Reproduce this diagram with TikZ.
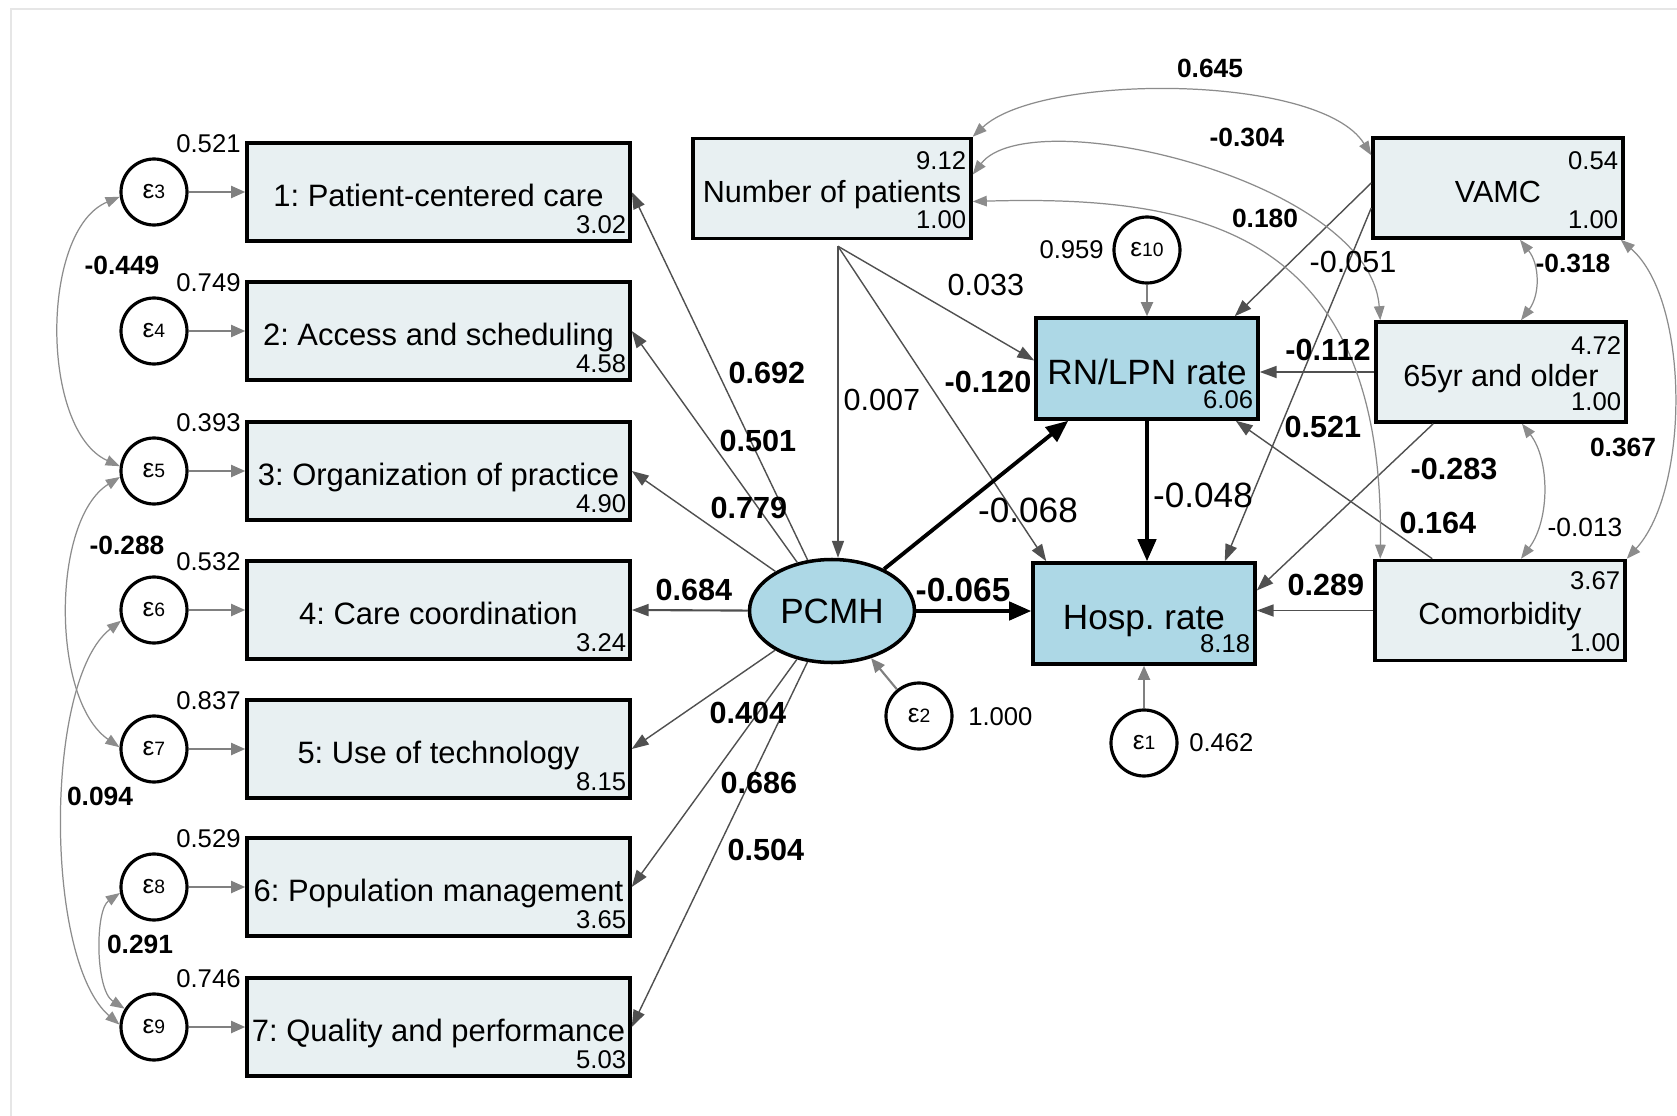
\documentclass[tikz,border=0pt]{standalone}
\usepackage{fontspec}
\setmainfont{Liberation Sans}
\usetikzlibrary{arrows.meta,calc,shapes.geometric}

\definecolor{boxfill}{RGB}{232,240,242}
\definecolor{endofill}{RGB}{173,216,230}
\definecolor{errline}{RGB}{128,128,128}
\definecolor{regline}{RGB}{80,80,80}
\definecolor{covline}{RGB}{140,140,140}
\definecolor{framecol}{RGB}{230,230,230}

\newcommand{\errlab}[1]{{\fontsize{7.5}{8}\selectfont ε}{\fontsize{5.5}{6}\selectfont #1}}

\tikzset{
  ind/.style={draw, line width=1pt, fill=boxfill, minimum width=38.3mm, minimum height=9.8mm, inner sep=0pt, text height=8pt, text depth=0pt, font=\fontsize{8.8}{10}\selectfont},
  exo/.style={draw, line width=1pt, fill=boxfill, minimum width=25mm, minimum height=10mm, inner sep=0pt, text height=8pt, text depth=0pt, font=\fontsize{8.7}{10}\selectfont},
  endo/.style={draw, line width=1pt, fill=endofill, minimum width=22.2mm, minimum height=10.1mm, inner sep=0pt, text height=9pt, text depth=0pt, font=\fontsize{10}{12}\selectfont},
  latent/.style={ellipse, draw, line width=1pt, fill=endofill, minimum width=16.5mm, minimum height=10.3mm, inner sep=0pt, font=\fontsize{10}{12}\selectfont},
  err/.style={circle, draw, line width=0.9pt, fill=white, minimum size=6.6mm, inner sep=0pt},
  num/.style={inner sep=0pt, font=\fontsize{7.3}{8}\selectfont},
  lab/.style={inner sep=0pt, font=\bfseries\fontsize{8.7}{10}\selectfont},
  labn/.style={inner sep=0pt, font=\fontsize{8.7}{10}\selectfont},
  labbig/.style={inner sep=0pt, font=\fontsize{10}{12}\selectfont},
  covlab/.style={inner sep=0pt, font=\bfseries\fontsize{7.5}{9}\selectfont},
  covlabn/.style={inner sep=0pt, font=\fontsize{7.5}{9}\selectfont},
  errpath/.style={draw=errline, line width=0.6pt, -{Triangle[length=4pt,width=3.4pt]}},
  reg/.style={draw=regline, line width=0.4pt, -{Triangle[length=4.8pt,width=3.4pt]}},
  bigreg/.style={draw=black, line width=1.1pt, -{Triangle[length=6.3pt,width=5.2pt]}},
  cov/.style={draw=covline, line width=0.35pt, {Triangle[length=4pt,width=3pt]}-{Triangle[length=4pt,width=3pt]}}
}

\begin{document}
\frenchspacing
\begin{tikzpicture}[x=0.1mm, y=-0.1mm]
\path[use as bounding box, fill=white] (0,0) rectangle (1677,1116);
\draw[framecol, line width=0.6pt] (11,1116) -- (11,9) -- (1677,9);

% measurement part
\node[err] (e3) at (154,192) {\errlab{3}};
\node[err] (e4) at (154,331) {\errlab{4}};
\node[err] (e5) at (154,471) {\errlab{5}};
\node[err] (e6) at (154,610) {\errlab{6}};
\node[err] (e7) at (154,749) {\errlab{7}};
\node[err] (e8) at (154,887) {\errlab{8}};
\node[err] (e9) at (154,1027) {\errlab{9}};

\node[ind] (b1) at (438.5,192) {1: Patient-centered care};
\node[ind] (b2) at (438.5,331) {2: Access and scheduling};
\node[ind] (b3) at (438.5,471) {3: Organization of practice};
\node[ind] (b4) at (438.5,610) {4: Care coordination};
\node[ind] (b5) at (438.5,749) {5: Use of technology};
\node[ind] (b6) at (438.5,887) {6: Population management};
\node[ind] (b7) at (438.5,1027) {7: Quality and performance};

\node[num, anchor=east] (v3) at ($(b1.north west)+(-4,2)$) {0.521};
\node[num, anchor=east] (v4) at ($(b2.north west)+(-4,2)$) {0.749};
\node[num, anchor=east] (v5) at ($(b3.north west)+(-4,2)$) {0.393};
\node[num, anchor=east] (v6) at ($(b4.north west)+(-4,2)$) {0.532};
\node[num, anchor=east] (v7) at ($(b5.north west)+(-4,2)$) {0.837};
\node[num, anchor=east] (v8) at ($(b6.north west)+(-4,2)$) {0.529};
\node[num, anchor=east] (v9) at ($(b7.north west)+(-4,2)$) {0.746};

\node[num, anchor=east] (i1) at ($(b1.south east)+(-5,-18)$) {3.02};
\node[num, anchor=east] (i2) at ($(b2.south east)+(-5,-18)$) {4.58};
\node[num, anchor=east] (i3) at ($(b3.south east)+(-5,-18)$) {4.90};
\node[num, anchor=east] (i4) at ($(b4.south east)+(-5,-18)$) {3.24};
\node[num, anchor=east] (i5) at ($(b5.south east)+(-5,-18)$) {8.15};
\node[num, anchor=east] (i6) at ($(b6.south east)+(-5,-18)$) {3.65};
\node[num, anchor=east] (i7) at ($(b7.south east)+(-5,-18)$) {5.03};

\draw[errpath] (e3) -- (b1);
\draw[errpath] (e4) -- (b2);
\draw[errpath] (e5) -- (b3);
\draw[errpath] (e6) -- (b4);
\draw[errpath] (e7) -- (b5);
\draw[errpath] (e8) -- (b6);
\draw[errpath] (e9) -- (b7);

% structural part
\node[latent] (pcmh) at (832,611) {PCMH};
\node[endo] (rn) at (1147,368.5) {RN/LPN rate};
\node[endo] (hosp) at (1144,613.5) {Hosp. rate};
\node[exo, minimum width=27.8mm] (np) at (832,188.5) {Number of patients};
\node[exo] (vamc) at (1498,188) {VAMC};
\node[exo] (old) at (1501,372) {65yr and older};
\node[exo] (com) at (1500,610.5) {Comorbidity};

\node[num, anchor=east] (np1) at ($(np.north east)+(-6,24)$) {9.12};
\node[num, anchor=east] (np2) at ($(np.south east)+(-6,-21)$) {1.00};
\node[num, anchor=east] (vamc1) at ($(vamc.north east)+(-6,24)$) {0.54};
\node[num, anchor=east] (vamc2) at ($(vamc.south east)+(-6,-20)$) {1.00};
\node[num, anchor=east] (old1) at ($(old.north east)+(-6,25)$) {4.72};
\node[num, anchor=east] (old2) at ($(old.south east)+(-6,-22)$) {1.00};
\node[num, anchor=east] (com1) at ($(com.north east)+(-6,22)$) {3.67};
\node[num, anchor=east] (com2) at ($(com.south east)+(-6,-20)$) {1.00};
\node[num, anchor=east] (rn1) at ($(rn.south east)+(-6,-21)$) {6.06};
\node[num, anchor=east] (hosp1) at ($(hosp.south east)+(-6,-22)$) {8.18};

\node[err] (e10) at (1147,250) {\errlab{10}};
\node[err] (e2) at (919,716) {\errlab{2}};
\node[err] (e1) at (1144,743) {\errlab{1}};
\node[num, anchor=east] (v10) at ($(e10.west)+(-8,0)$) {0.959};
\node[num, anchor=west] (v2) at ($(e2.east)+(14,1)$) {1.000};
\node[num, anchor=west] (v1) at ($(e1.east)+(10,0)$) {0.462};

\draw[errpath] (e10) -- (rn);
\draw[errpath] (e2) -- (pcmh);
\draw[errpath] (e1) -- (hosp);

% loadings
\draw[reg] (pcmh) -- (b1.east);
\draw[reg] (pcmh) -- (b2.east);
\draw[reg] (pcmh) -- (b3.east);
\draw[reg, line width=0.6pt] (pcmh) -- (b4.east);
\draw[reg] (pcmh) -- (b5.east);
\draw[reg] (pcmh) -- (b6.east);
\draw[reg] (pcmh) -- (b7.east);

% paths
\coordinate (npout) at ($(np.south)+(6,6)$);
\draw[reg] (npout) -- (npout |- pcmh.north);
\draw[reg] (npout) -- ($(rn.west)+(0,-8)$);
\draw[reg] (npout) -- ($(hosp.north west)+(15,0)$);
\draw[bigreg] (pcmh) -- ($(rn.south west)+(34,0)$);
\draw[bigreg] (pcmh) -- (pcmh -| hosp.west);
\draw[bigreg] (rn.south) -- (rn.south |- hosp.north);
\draw[reg] ($(vamc.west)+(0,-5)$) -- ($(rn.north east)+(-25,0)$);
\draw[reg] ($(vamc.west)+(0,20)$) -- ($(hosp.north east)+(-32,0)$);
\draw[reg, line width=0.55pt] (old.west) -- (old.west -| rn.east);
\draw[reg] ($(old.south west)+(59,0)$) -- ($(hosp.east)+(0,-23)$);
\draw[reg] ($(com.north west)+(59,0)$) -- ($(rn.south east)+(-24,0)$);
\draw[reg, line width=0.55pt] (com.west) -- (com.west -| hosp.east);

% covariances
\draw[cov] (np.north east) .. controls (1040,73) and (1320,73) .. ($(vamc.north west)+(0,19)$);
\draw[cov] ($(np.east)+(0,-14)$) .. controls (1030,100) and (1370,180) .. ($(old.north west)+(6,0)$);
\draw[cov] ($(np.east)+(0,13)$) .. controls (1200,195) and (1385,230) .. ($(com.north west)+(7,0)$);
\draw[cov] ($(vamc.south)+(22,0)$) .. controls (1540,265) and (1540,295) .. ($(old.north)+(20,0)$);
\draw[cov] ($(old.south)+(21,0)$) .. controls (1550,460) and (1550,520) .. ($(com.north)+(21,0)$);
\draw[cov] ($(vamc.south east)+(-4,0)$) .. controls (1690,300) and (1690,490) .. (com.north east);
\draw[cov] (e3.188) .. controls (40,230) and (40,430) .. (e5.172);
\draw[cov] (e5.190) .. controls (51,520) and (51,700) .. (e7.177);
\draw[cov] (e6.198) .. controls (44,680) and (44,960) .. (e9.176);
\draw[cov] (e8.190) .. controls (95,910) and (95,990) .. (e9.148);

% labels
\node[lab] (l1) at (767,373) {0.692};
\node[lab] (l2) at (758,441) {0.501};
\node[lab] (l3) at (749,508) {0.779};
\node[lab] (l4) at (694,590) {0.684};
\node[lab] (l5) at (748,713) {0.404};
\node[lab] (l6) at (759,783) {0.686};
\node[lab] (l7) at (766,850) {0.504};
\node[labn] (lnp1) at (882,400) {0.007};
\node[labn] (lnp2) at (986,285) {0.033};
\node[labbig] (lnp3) at (1028,510) {-0.068};
\node[lab] (lpc1) at (988,382) {-0.120};
\node[lab, font=\bfseries\fontsize{9.5}{11}\selectfont] (lpc2) at (963,590) {-0.065};
\node[labbig] (lrn) at (1203,495) {-0.048};
\node[labn] (lva1) at (1353,262) {-0.051};
\node[lab] (lva2) at (1323,427) {0.521};
\node[lab] (lold1) at (1328,350) {-0.112};
\node[lab] (lold2) at (1454,469) {-0.283};
\node[lab] (lcom1) at (1438,523) {0.164};
\node[lab] (lcom2) at (1326,585) {0.289};
\node[covlab] (c1) at (1210,68) {0.645};
\node[covlab] (c2) at (1247,137) {-0.304};
\node[covlab] (c3) at (1265,218) {0.180};
\node[covlab] (c4) at (1573,263) {-0.318};
\node[covlabn] (c5) at (1585,527) {-0.013};
\node[covlab] (c6) at (1623,447) {0.367};
\node[covlab] (c7) at (122,265) {-0.449};
\node[covlab] (c8) at (127,545) {-0.288};
\node[covlab] (c9) at (100,796) {0.094};
\node[covlab] (c10) at (140,944) {0.291};
\end{tikzpicture}
\end{document}
